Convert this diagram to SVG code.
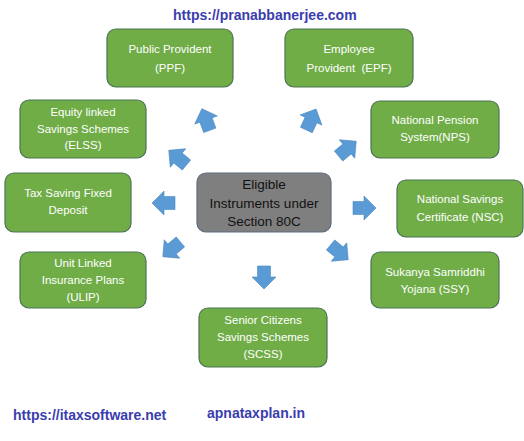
<svg xmlns="http://www.w3.org/2000/svg" xmlns:xlink="http://www.w3.org/1999/xlink" width="524" height="441" viewBox="0 0 524 441">
<style>
.box{fill:#70AD47;stroke:#4B7452;stroke-width:1.2}
.center{fill:#7F7F7F;stroke:#5D6D7E;stroke-width:1.2}
.t{font-family:"Liberation Sans",Arial,sans-serif;font-size:11.5px;fill:#ffffff;text-anchor:middle}
.ct{font-family:"Liberation Sans",Arial,sans-serif;font-size:13.5px;fill:#111111;text-anchor:middle}
.url{font-family:"Liberation Sans",Arial,sans-serif;font-size:14px;font-weight:bold;fill:#3A3DAE}
.arr{fill:#5B9BD5;stroke:#4A86BE;stroke-width:0.6}
</style>
<defs>
<path id="a" d="M-11,-6.5 L0,-6.5 L0,-12 L12,0 L0,12 L0,6.5 L-11,6.5 Z"/>
</defs>
<rect width="524" height="441" fill="#ffffff"/>
<text class="url" x="173" y="20">https://pranabbanerjee.com</text>
<text class="url" x="13" y="420">https://itaxsoftware.net</text>
<text class="url" x="207" y="418">apnataxplan.in</text>

<g id="connectors" class="arr">
<use xlink:href="#a" transform="translate(206,120) rotate(-110)"/>
<use xlink:href="#a" transform="translate(178,158) rotate(-140)"/>
<use xlink:href="#a" transform="translate(311,120) rotate(-65)"/>
<use xlink:href="#a" transform="translate(347,149) rotate(-40)"/>
<use xlink:href="#a" transform="translate(164,203) rotate(180)"/>
<use xlink:href="#a" transform="translate(172,249) rotate(140)"/>
<use xlink:href="#a" transform="translate(364,208) rotate(0)"/>
<use xlink:href="#a" transform="translate(339,252) rotate(40)"/>
<use xlink:href="#a" transform="translate(264,277) rotate(90)"/>
</g>

<g id="center">
<rect class="center" x="197" y="173" width="134" height="59" rx="9"/>
<text class="ct" x="264" y="189">Eligible</text>
<text class="ct" x="264" y="207.5">Instruments under</text>
<text class="ct" x="264" y="226">Section 80C</text>
</g>
<g id="ppf">
<rect class="box" x="107" y="29" width="126" height="58" rx="9"/>
<text class="t" x="170" y="53">Public Provident</text>
<text class="t" x="170" y="72">(PPF)</text>
</g>
<g id="epf">
<rect class="box" x="285" y="29" width="128" height="58" rx="9"/>
<text class="t" x="349" y="53">Employee</text>
<text class="t" x="349" y="72" xml:space="preserve">Provident  (EPF)</text>
</g>
<g id="elss">
<rect class="box" x="20" y="100" width="126" height="58" rx="9"/>
<text class="t" x="83" y="116">Equity linked</text>
<text class="t" x="83" y="132.5">Savings Schemes</text>
<text class="t" x="83" y="149">(ELSS)</text>
</g>
<g id="nps">
<rect class="box" x="371" y="101" width="128" height="57" rx="9"/>
<text class="t" x="435" y="124">National Pension</text>
<text class="t" x="435" y="141">System(NPS)</text>
</g>
<g id="tax">
<rect class="box" x="5" y="173" width="126" height="59" rx="9"/>
<text class="t" x="68" y="197">Tax Saving Fixed</text>
<text class="t" x="68" y="214">Deposit</text>
</g>
<g id="nsc">
<rect class="box" x="397" y="180" width="126" height="57" rx="9"/>
<text class="t" x="460" y="203">National Savings</text>
<text class="t" x="460" y="221">Certificate (NSC)</text>
</g>
<g id="ulip">
<rect class="box" x="20" y="252" width="126" height="56" rx="9"/>
<text class="t" x="83" y="267">Unit Linked</text>
<text class="t" x="83" y="284">Insurance Plans</text>
<text class="t" x="83" y="301">(ULIP)</text>
</g>
<g id="ssy">
<rect class="box" x="371" y="252" width="128" height="56" rx="9"/>
<text class="t" x="435" y="276">Sukanya Samriddhi</text>
<text class="t" x="435" y="293">Yojana (SSY)</text>
</g>
<g id="scss">
<rect class="box" x="199" y="308" width="128" height="59" rx="9"/>
<text class="t" x="263" y="324">Senior Citizens</text>
<text class="t" x="263" y="341">Savings Schemes</text>
<text class="t" x="263" y="358">(SCSS)</text>
</g>
</svg>
